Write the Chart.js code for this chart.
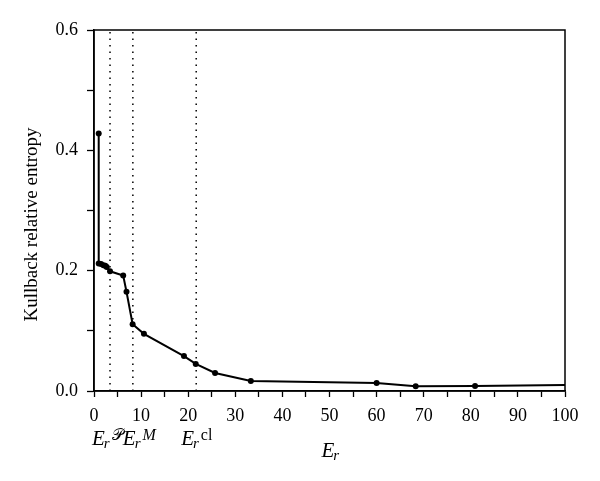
<!DOCTYPE html>
<html>
<head>
<meta charset="utf-8">
<script src="https://cdn.jsdelivr.net/npm/chart.js@4"></script>
<style>
  html, body { margin: 0; padding: 0; background: #fff; }
  #wrap { width: 600px; height: 481px; }
</style>
</head>
<body>
<div id="wrap"><canvas id="kl-chart"></canvas></div>
<script>
// values
var erValues = [1.0, 1.0, 1.5, 2.0, 2.4, 2.7, 3.4, 6.2, 6.9, 8.2, 10.6, 19.1, 21.6, 25.7, 33.3, 60.0, 68.3, 80.9, 100];
var klValues = [0.428, 0.212, 0.211, 0.209, 0.208, 0.206, 0.199, 0.192, 0.165, 0.111, 0.095, 0.058, 0.045, 0.030, 0.0166, 0.0133, 0.0078, 0.0083, 0.010];
var markerSize = [3, 3, 3, 3, 3, 3, 3, 3, 3, 3, 3, 3, 3, 3, 3, 3, 3, 3, 0];

// dotted reference energies and their labels
var refEnergies = [3.4, 8.25, 21.7];
var refSup = ["\u{1D4AB}", "M", "cl"];
var refSupItalic = [false, true, false];
var refLabelShift = [18, 10, 15];

var xTicks = [0, 10, 20, 30, 40, 50, 60, 70, 80, 90, 100];
var yTicks = [0.0, 0.2, 0.4, 0.6];

var serif = '"Liberation Serif", "DejaVu Serif", serif';

var points = erValues.map(function (x, i) { return { x: x, y: klValues[i] }; });

var refSets = refEnergies.map(function (e) {
    return {
        data: [{ x: e, y: 0 }, { x: e, y: 0.6 }],
        borderColor: "#000",
        borderWidth: 1.5,
        borderDash: [1.5, 5],
        pointRadius: 0,
        fill: false
    };
});

function drawEr(ctx, x, y, sup, supItalic) {
    ctx.fillStyle = "#000";
    ctx.textAlign = "left";
    ctx.textBaseline = "alphabetic";
    ctx.font = "italic 21px " + serif;
    ctx.fillText("E", x, y);
    var w = ctx.measureText("E").width;
    ctx.font = "italic 15px " + serif;
    ctx.fillText("r", x + w - 1, y + 3);
    var wr = ctx.measureText("r").width;
    if (sup) {
        ctx.font = (supItalic ? "italic " : "") + "16px " + serif;
        ctx.fillText(sup, x + w + wr + 1, y - 5);
    }
}

var extras = {
    id: "extras",
    afterDraw: function (chart) {
        var ctx = chart.ctx;
        var a = chart.chartArea;
        var xs = chart.scales.x;
        ctx.save();
        // frame
        ctx.strokeStyle = "#000";
        ctx.lineWidth = 1.5;
        ctx.strokeRect(a.left, a.top, a.right - a.left, a.bottom - a.top);
        // y title
        ctx.translate(32, (a.top + a.bottom) / 2 + 14);
        ctx.rotate(-Math.PI / 2);
        ctx.font = "19px " + serif;
        ctx.fillStyle = "#000";
        ctx.textAlign = "center";
        ctx.textBaseline = "middle";
        ctx.fillText("Kullback relative entropy", 0, 0);
        ctx.restore();

        ctx.save();
        refEnergies.forEach(function (e, i) {
            var px = xs.getPixelForValue(e) - refLabelShift[i];
            drawEr(ctx, px, 445, refSup[i], refSupItalic[i]);
        });
        // x title
        drawEr(ctx, (a.left + a.right) / 2 - 8, 457, "", false);
        ctx.restore();
    }
};

new Chart(document.getElementById("kl-chart"), {
    type: "line",
    data: {
        datasets: [{
            data: points,
            borderColor: "#000",
            borderWidth: 2,
            pointRadius: markerSize,
            pointBackgroundColor: "#000",
            pointBorderWidth: 0,
            fill: false,
            tension: 0
        }].concat(refSets)
    },
    options: {
        responsive: true,
        maintainAspectRatio: false,
        animation: false,
        layout: { padding: { left: 0, right: 35, top: 30, bottom: 0 } },
        plugins: { legend: { display: false }, tooltip: { enabled: false } },
        scales: {
            x: {
                type: "linear",
                min: 0,
                max: 100,
                afterFit: function (s) { s.height = 90; },
                afterBuildTicks: function (s) {
                    var t = [];
                    for (var v = 0; v <= 100; v += 5) t.push({ value: v });
                    s.ticks = t;
                },
                ticks: {
                    autoSkip: false,
                    maxRotation: 0,
                    padding: 8,
                    color: "#000",
                    font: { family: serif, size: 18 },
                    callback: function (v) { return xTicks.indexOf(v) >= 0 ? String(v) : ""; }
                },
                grid: { drawOnChartArea: false, tickLength: 6, tickWidth: 1.3, tickColor: "#000" },
                border: { color: "#000", width: 1.5 }
            },
            y: {
                type: "linear",
                min: 0,
                max: 0.6,
                afterFit: function (s) { s.width = 94; },
                afterBuildTicks: function (s) {
                    var t = [];
                    for (var i = 0; i <= 6; i++) t.push({ value: i / 10 });
                    s.ticks = t;
                },
                ticks: {
                    autoSkip: false,
                    padding: 9,
                    color: "#000",
                    font: { family: serif, size: 18 },
                    callback: function (v) {
                        var hit = yTicks.some(function (t) { return Math.abs(t - v) < 1e-9; });
                        return hit ? v.toFixed(1) : "";
                    }
                },
                grid: { drawOnChartArea: false, tickLength: 7, tickWidth: 1.3, tickColor: "#000" },
                border: { color: "#000", width: 1.5 }
            }
        }
    },
    plugins: [extras]
});
</script>
</body>
</html>
